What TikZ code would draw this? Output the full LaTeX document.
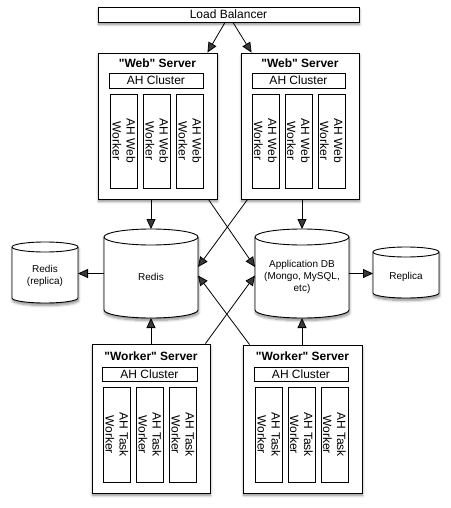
\documentclass[tikz,border=0pt]{standalone}
\usepackage{fontspec}
\setmainfont{Liberation Sans}[Ligatures=TeXOff]
\usetikzlibrary{arrows.meta,shadows.blur,calc}
\newcommand\dbcyl[3]{%
  \draw[line width=0.9pt, fill=white, shadowed] ([yshift=-#3pt]#1.north west) -- ([yshift=#3pt]#1.south west)
    arc[start angle=180,end angle=0,x radius=#2,y radius=#3] -- ([yshift=-#3pt]#1.north east)
    arc[start angle=0,end angle=-180,x radius=#2,y radius=#3] -- cycle;
  \draw[line width=0.9pt] ([yshift=-#3pt]#1.north west) arc[start angle=180,end angle=0,x radius=#2,y radius=#3];}
\begin{document}
\begin{tikzpicture}[x=1pt,y=-1pt,
  shadowed/.style={blur shadow={shadow xshift=0.6pt, shadow yshift=-2.5pt, shadow blur radius=2.5pt, shadow blur steps=6, shadow opacity=45}},
  box/.style={draw, line width=0.9pt, fill=white, inner sep=0pt},
  server/.style={box, shadowed},
  cluster/.style={box, minimum height=15pt, font=\fontsize{12}{14}\selectfont},
  proc/.style={box, minimum width=27pt},
  proctext/.style={rotate=-90, align=center, inner sep=0pt, font=\fontsize{12}{14}\selectfont},
  title/.style={inner sep=0pt, font=\bfseries\fontsize{12}{14}\selectfont},
  dbnode/.style={inner sep=0pt, outer sep=0pt, draw=none},
  dbtext/.style={align=center, inner sep=0pt, font=\fontsize{10}{12}\selectfont},
  arr/.style={-{Triangle[length=10pt,width=9pt]}, line width=0.8pt}]
\useasboundingbox (0,0) rectangle (450,508);

% Load balancer
\node[server, minimum width=261pt, minimum height=15pt, font=\fontsize{12}{14}\selectfont] (lb) at (228.5,14.5) {Load Balancer};

% Web servers
\node[server, minimum width=119pt, minimum height=146pt] (webL) at (157.5,126) {};
\node[title] (webLt) at (157.5,63) {"Web" Server};
\node[cluster, minimum width=94pt] (webLc) at (156,80.5) {AH Cluster};
\node[proc, minimum height=94pt] (webL1) at (124,141) {};
\node[proc, minimum height=94pt] (webL2) at (157,141) {};
\node[proc, minimum height=94pt] (webL3) at (190,141) {};
\node[proctext] (webL1t) at (webL1) {AH Web\\Worker};
\node[proctext] (webL2t) at (webL2) {AH Web\\Worker};
\node[proctext] (webL3t) at (webL3) {AH Web\\Worker};

\node[server, minimum width=118pt, minimum height=146pt] (webR) at (300,126) {};
\node[title] (webRt) at (300,63) {"Web" Server};
\node[cluster, minimum width=93pt] (webRc) at (298.5,80.5) {AH Cluster};
\node[proc, minimum height=94pt] (webR1) at (265.5,141) {};
\node[proc, minimum height=94pt] (webR2) at (298.5,141) {};
\node[proc, minimum height=94pt] (webR3) at (331.5,141) {};
\node[proctext] (webR1t) at (webR1) {AH Web\\Worker};
\node[proctext] (webR2t) at (webR2) {AH Web\\Worker};
\node[proctext] (webR3t) at (webR3) {AH Web\\Worker};

% Worker servers
\node[server, minimum width=118pt, minimum height=149pt] (wrkL) at (151,418.5) {};
\node[title] (wrkLt) at (151,356) {"Worker" Server};
\node[cluster, minimum width=95pt, minimum height=14pt] (wrkLc) at (149.5,374) {AH Cluster};
\node[proc, minimum height=95pt] (wrkL1) at (117,434.5) {};
\node[proc, minimum height=95pt] (wrkL2) at (150,434.5) {};
\node[proc, minimum height=95pt] (wrkL3) at (183,434.5) {};
\node[proctext] (wrkL1t) at (wrkL1) {AH Task\\Worker};
\node[proctext] (wrkL2t) at (wrkL2) {AH Task\\Worker};
\node[proctext] (wrkL3t) at (wrkL3) {AH Task\\Worker};

\node[server, minimum width=119pt, minimum height=148pt] (wrkR) at (302.5,419) {};
\node[title] (wrkRt) at (302.5,356) {"Worker" Server};
\node[cluster, minimum width=94pt, minimum height=14pt] (wrkRc) at (301,374) {AH Cluster};
\node[proc, minimum height=95pt] (wrkR1) at (269,434.5) {};
\node[proc, minimum height=95pt] (wrkR2) at (301.5,434.5) {};
\node[proc, minimum height=95pt] (wrkR3) at (334.5,434.5) {};
\node[proctext] (wrkR1t) at (wrkR1) {AH Task\\Worker};
\node[proctext] (wrkR2t) at (wrkR2) {AH Task\\Worker};
\node[proctext] (wrkR3t) at (wrkR3) {AH Task\\Worker};

% Databases
\node[dbnode, minimum width=66pt, minimum height=61pt] (redisrep) at (45,272.5) {};
\node[dbnode, minimum width=94pt, minimum height=89pt] (redis) at (151,273.5) {};
\node[dbnode, minimum width=94pt, minimum height=89pt] (appdb) at (302,273.5) {};
\node[dbnode, minimum width=66pt, minimum height=51pt] (replica) at (406,272.5) {};
\dbcyl{redisrep}{33}{5}
\dbcyl{redis}{47}{8}
\dbcyl{appdb}{47}{8}
\dbcyl{replica}{33}{5}
\node[dbtext] (redisrept) at (45,276) {Redis\\(replica)};
\node[dbtext] (redist) at (151,277) {Redis};
\node[dbtext] (appdbt) at (302,277) {Application DB\\(Mongo, MySQL,\\etc)};
\node[dbtext] (replicat) at (406,277) {Replica};

% Connectors
\draw[arr] ([xshift=-3.5pt]lb.south) -- ([xshift=-10pt]webL.north east);
\draw[arr] ([xshift=4.5pt]lb.south) -- ([xshift=11pt]webR.north west);
\draw[arr] (redis.north |- webL.south) -- (redis.north);
\draw[arr] (appdb.north |- webR.south) -- (appdb.north);
\draw[arr] ([xshift=-9pt]webL.south east) -- ([yshift=6.5pt]appdb.west);
\draw[arr] ([xshift=7pt]webR.south west) -- ([yshift=6.5pt]redis.east);
\draw[arr] ([xshift=-5pt]wrkL.north east) -- ([yshift=-2pt]appdb.west);
\draw[arr] ([xshift=7pt]wrkR.north west) -- ([yshift=-2pt]redis.east);
\draw[arr] (redis.south |- wrkL.north) -- (redis.south);
\draw[arr] (appdb.south |- wrkR.north) -- (appdb.south);
\draw[arr] (redis.west) -- (redis.west -| redisrep.east);
\draw[arr] (appdb.east) -- (appdb.east -| replica.west);
\end{tikzpicture}
\end{document}
